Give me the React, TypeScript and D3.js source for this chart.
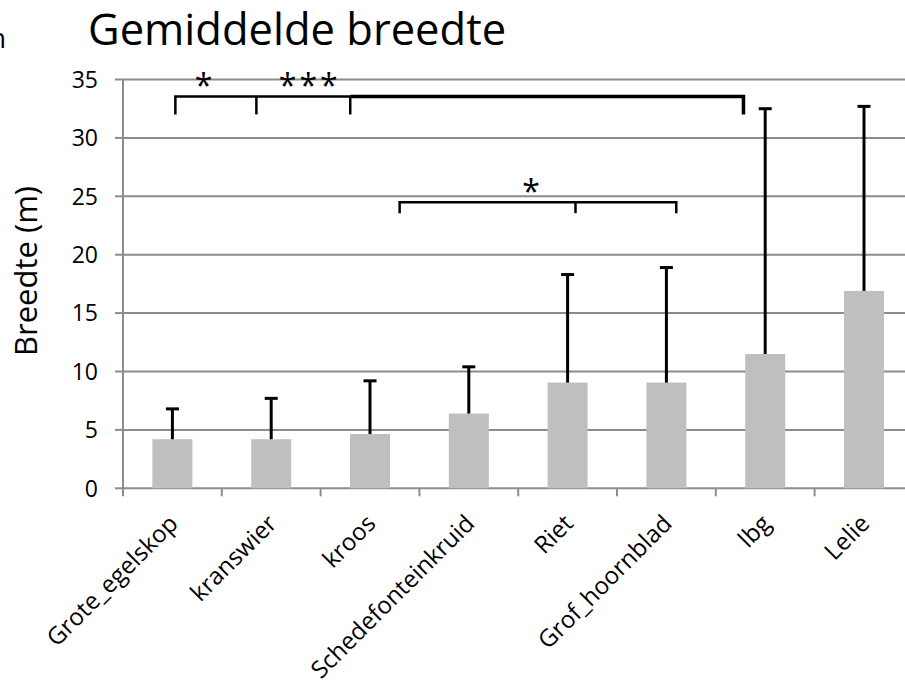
import React from "react";
import * as d3 from "d3";

// Plant types and their mean width with the standard deviation drawn as an upper error bar
const categories = [
  "Grote_egelskop",
  "kranswier",
  "kroos",
  "Schedefonteinkruid",
  "Riet",
  "Grof_hoornblad",
  "lbg",
  "Lelie",
];
const means = [4.2, 4.2, 4.65, 6.4, 9.05, 9.05, 11.5, 16.9];
const deviations = [2.6, 3.5, 4.55, 4.0, 9.25, 9.85, 21.0, 15.8];
const yTicks = [0, 5, 10, 15, 20, 25, 30, 35];

// Significance brackets, positioned in category units (0 = centre of first category)
const bracketTop = { ends: [0.03, 5.78], drops: [0.85, 1.8], level: 33.55 };
const bracketBottom = { ends: [2.3, 5.1], drops: [4.08], level: 24.5 };
const starsTop = [
  { at: 0.33, text: "*" },
  { at: 1.39, text: "***" },
];
const starsBottom = [{ at: 3.63, text: "*" }];

const W = 905;
const H = 683;
const left = 123;
const step = 98.8;
const top = 79.5;
const bottom = 488.3;
const FONT = "'Open Sans', 'Noto Sans', sans-serif";

export default function App() {
  const x = d3
    .scaleBand<string>()
    .domain(categories)
    .range([left, left + step * categories.length])
    .padding(0);
  const y = d3.scaleLinear().domain([0, 35]).range([bottom, top]);
  const pos = d3
    .scaleLinear()
    .domain([0, 1])
    .range([left + step / 2, left + step * 1.5]);
  const barW = x.bandwidth() * 0.405;
  const grid = "#8c8c8c";

  const yt = y(bracketTop.level);
  const yb = y(bracketBottom.level);

  return (
    <svg
      width={W}
      height={H}
      style={{ position: "absolute", left: 0, top: 0, background: "#fff" }}
      fontFamily={FONT}
    >
      <text x={-11} y={48} fontSize={28} fill="#000">h</text>
      <text x={88} y={45} fontSize={43.5} fill="#000">Gemiddelde breedte</text>

      {/* gridlines and value axis */}
      {yTicks.map((t) => (
        <g key={t}>
          <line x1={left} x2={W} y1={y(t)} y2={y(t)} stroke={grid} strokeWidth={2} />
          <line x1={left - 8} x2={left} y1={y(t)} y2={y(t)} stroke={grid} strokeWidth={2} />
          <text
            x={left - 25}
            y={y(t)}
            dy="0.36em"
            textAnchor="end"
            fontSize={23}
            fill="#000"
          >
            {t}
          </text>
        </g>
      ))}
      <line x1={left} x2={left} y1={top} y2={bottom + 1} stroke={grid} strokeWidth={2} />
      {categories.map((c) => (
        <line
          key={c}
          x1={x(c)!}
          x2={x(c)!}
          y1={bottom}
          y2={bottom + 8}
          stroke={grid}
          strokeWidth={2}
        />
      ))}

      {/* bars and error bars */}
      {categories.map((c, i) => {
        const cx = x(c)! + x.bandwidth() / 2;
        const yTop = y(means[i] + deviations[i]);
        return (
          <g key={c}>
            <rect
              x={cx - barW / 2}
              y={y(means[i])}
              width={barW}
              height={bottom - y(means[i])}
              fill="#bfbfbf"
            />
            <line x1={cx} x2={cx} y1={y(means[i])} y2={yTop} stroke="#000" strokeWidth={3} />
            <line x1={cx - 6.5} x2={cx + 6.5} y1={yTop} y2={yTop} stroke="#000" strokeWidth={3} />
          </g>
        );
      })}

      {/* significance brackets */}
      <g fill="none" stroke="#000">
        <path d={`M${pos(bracketTop.ends[0])},${yt + 18}V${yt}H${pos(bracketTop.drops[1])}`} strokeWidth={2.5} />
        <path d={`M${pos(bracketTop.drops[1])},${yt}H${pos(bracketTop.ends[1])}V${yt + 18}`} strokeWidth={3.5} />
        {bracketTop.drops.map((d) => (
          <line key={d} x1={pos(d)} x2={pos(d)} y1={yt} y2={yt + 18} strokeWidth={2.5} />
        ))}
        <path d={`M${pos(bracketBottom.ends[0])},${yb + 11}V${yb}H${pos(bracketBottom.ends[1])}V${yb + 11}`} strokeWidth={2.5} />
        {bracketBottom.drops.map((d) => (
          <line key={d} x1={pos(d)} x2={pos(d)} y1={yb} y2={yb + 11} strokeWidth={2.5} />
        ))}
      </g>
      {starsTop.map((s) => (
        <text key={s.at} x={pos(s.at)} y={yt + 1} textAnchor="middle" fontSize={32} letterSpacing={3} fill="#000">
          {s.text}
        </text>
      ))}
      {starsBottom.map((s) => (
        <text key={s.at} x={pos(s.at)} y={yb + 1} textAnchor="middle" fontSize={32} fill="#000">
          {s.text}
        </text>
      ))}

      {/* category labels */}
      {categories.map((c) => {
        const cx = x(c)! + x.bandwidth() / 2;
        return (
          <text
            key={c}
            transform={`translate(${cx + 7},${525}) rotate(-45)`}
            textAnchor="end"
            fontSize={24}
            fill="#000"
          >
            {c}
          </text>
        );
      })}

      <text
        transform={`translate(37,271) rotate(-90)`}
        textAnchor="middle"
        fontSize={31}
        fill="#000"
      >
        Breedte (m)
      </text>
    </svg>
  );
}
